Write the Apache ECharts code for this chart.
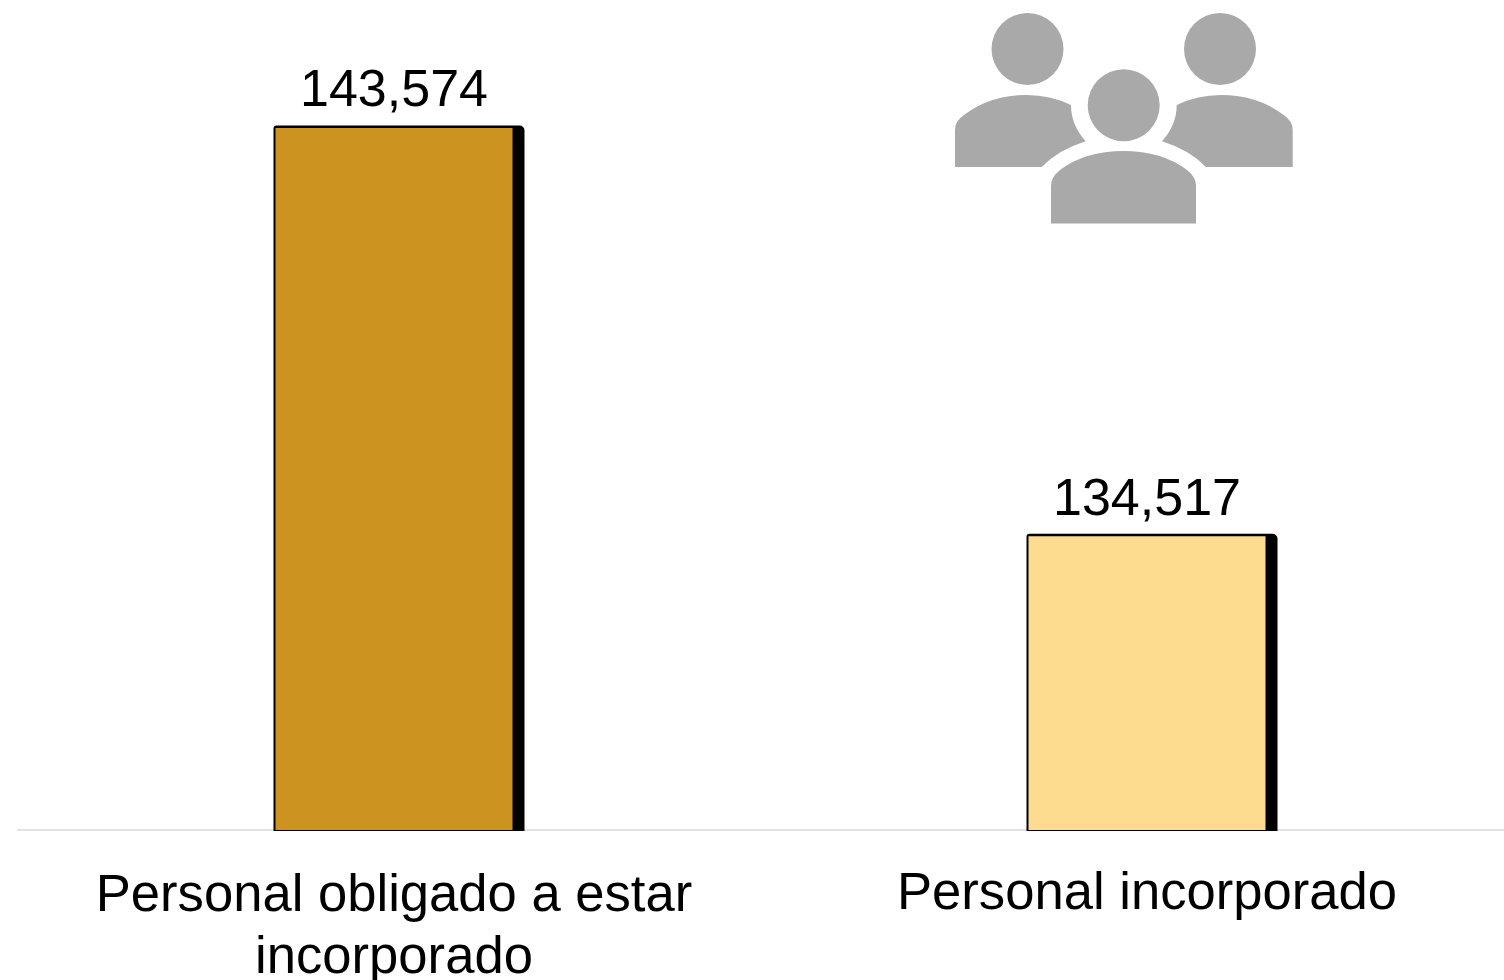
<!DOCTYPE html>
<html>
<head>
<meta charset="utf-8">
<style>html,body{margin:0;padding:0;background:#fff}#c{width:1504px;height:980px}</style>
<script src="https://cdn.jsdelivr.net/npm/echarts@6/dist/echarts.min.js"></script>
</head>
<body>
<div id="c"></div>
<script>
const categories = ['Personal obligado a estar\nincorporado', 'Personal incorporado'];
const values = [143574, 134517];
const barColors = ['#CD9320', '#FEDC8F'];
const axisMin = 128000;
const axisMax = 146000;

const iconGray = '#A9A9A9';
const fontFamily = '"Liberation Sans", Arial, sans-serif';
echarts.graphic.registerShape('bodyLeft', echarts.graphic.extendPath('M955,167 L955,130 Q955,121 964,115 Q990,95 1027,95 Q1050,95 1071,105 Q1071,125 1085.7,141.3 Q1058,150 1041.7,167 Z', {}));
echarts.graphic.registerShape('bodyRight', echarts.graphic.extendPath('M1292.7,167 L1292.7,130 Q1292.7,121 1283.7,115 Q1257.7,95 1220.7,95 Q1197.7,95 1176.7,105 Q1176.7,125 1162,141.3 Q1189.7,150 1206,167 Z', {}));
echarts.graphic.registerShape('bodyCenter', echarts.graphic.extendPath('M1051,223.5 L1051,186 Q1051,177 1060,170 Q1085,151 1123.5,151 Q1162,151 1187,170 Q1196,177 1196,186 L1196,223.5 Z', {}));

const chart = echarts.init(document.getElementById('c'), null, {renderer: 'canvas'});
chart.setOption({
  animation: false,
  backgroundColor: '#fff',
  textStyle: {fontFamily},
  grid: {left: 17.5, top: 18.7, width: 1506, height: 811.3, outerBoundsMode: 'none', containLabel: false},
  xAxis: {
    type: 'category',
    data: categories,
    axisTick: {show: false},
    axisLine: {show: true, lineStyle: {color: '#D9D9D9', width: 1.5}},
    axisLabel: {
      color: '#000', fontSize: 52.6, lineHeight: 62, margin: 35, interval: 0, fontFamily,
      formatter: (v, i) => i === 1 ? '{up|' + v + '}' : v,
      rich: {up: {color: '#000', fontSize: 52.6, lineHeight: 58, fontFamily}}
    }
  },
  yAxis: {type: 'value', min: axisMin, max: axisMax, show: false, splitLine: {show: false}},
  series: [{
    name: 'sombra',
    type: 'custom',
    silent: true,
    clip: false,
    z: 1,
    encode: {x: 0, y: 1},
    data: values.map((v, i) => [i, v]),
    renderItem: (params, api) => {
      const top = api.coord([api.value(0), api.value(1)]);
      const base = api.coord([api.value(0), axisMin]);
      return {
        type: 'rect',
        shape: {x: top[0] - 120.5, y: top[1] - 2.5, width: 251, height: base[1] - top[1] + 3.5, r: [3, 5, 0, 0]},
        style: {fill: '#000'}
      };
    }
  }, {
    name: 'personal',
    type: 'bar',
    z: 2,
    barWidth: 237,
    data: values.map((v, i) => ({value: v, itemStyle: {color: barColors[i]}})),
    label: {
      show: true, position: 'top', distance: 10, color: '#000', fontSize: 52, fontFamily,
      formatter: p => p.value.toLocaleString('en-US')
    }
  }],
  graphic: [
    {type: 'circle', shape: {cx: 1027.5, cy: 49, r: 36}, style: {fill: iconGray}},
    {type: 'circle', shape: {cx: 1220, cy: 49, r: 36}, style: {fill: iconGray}},
    {type: 'circle', shape: {cx: 1123.7, cy: 105.3, r: 36}, style: {fill: iconGray}},
    {type: 'bodyLeft', style: {fill: iconGray}},
    {type: 'bodyRight', style: {fill: iconGray}},
    {type: 'bodyCenter', style: {fill: iconGray}}
  ]
});
</script>
</body>
</html>
